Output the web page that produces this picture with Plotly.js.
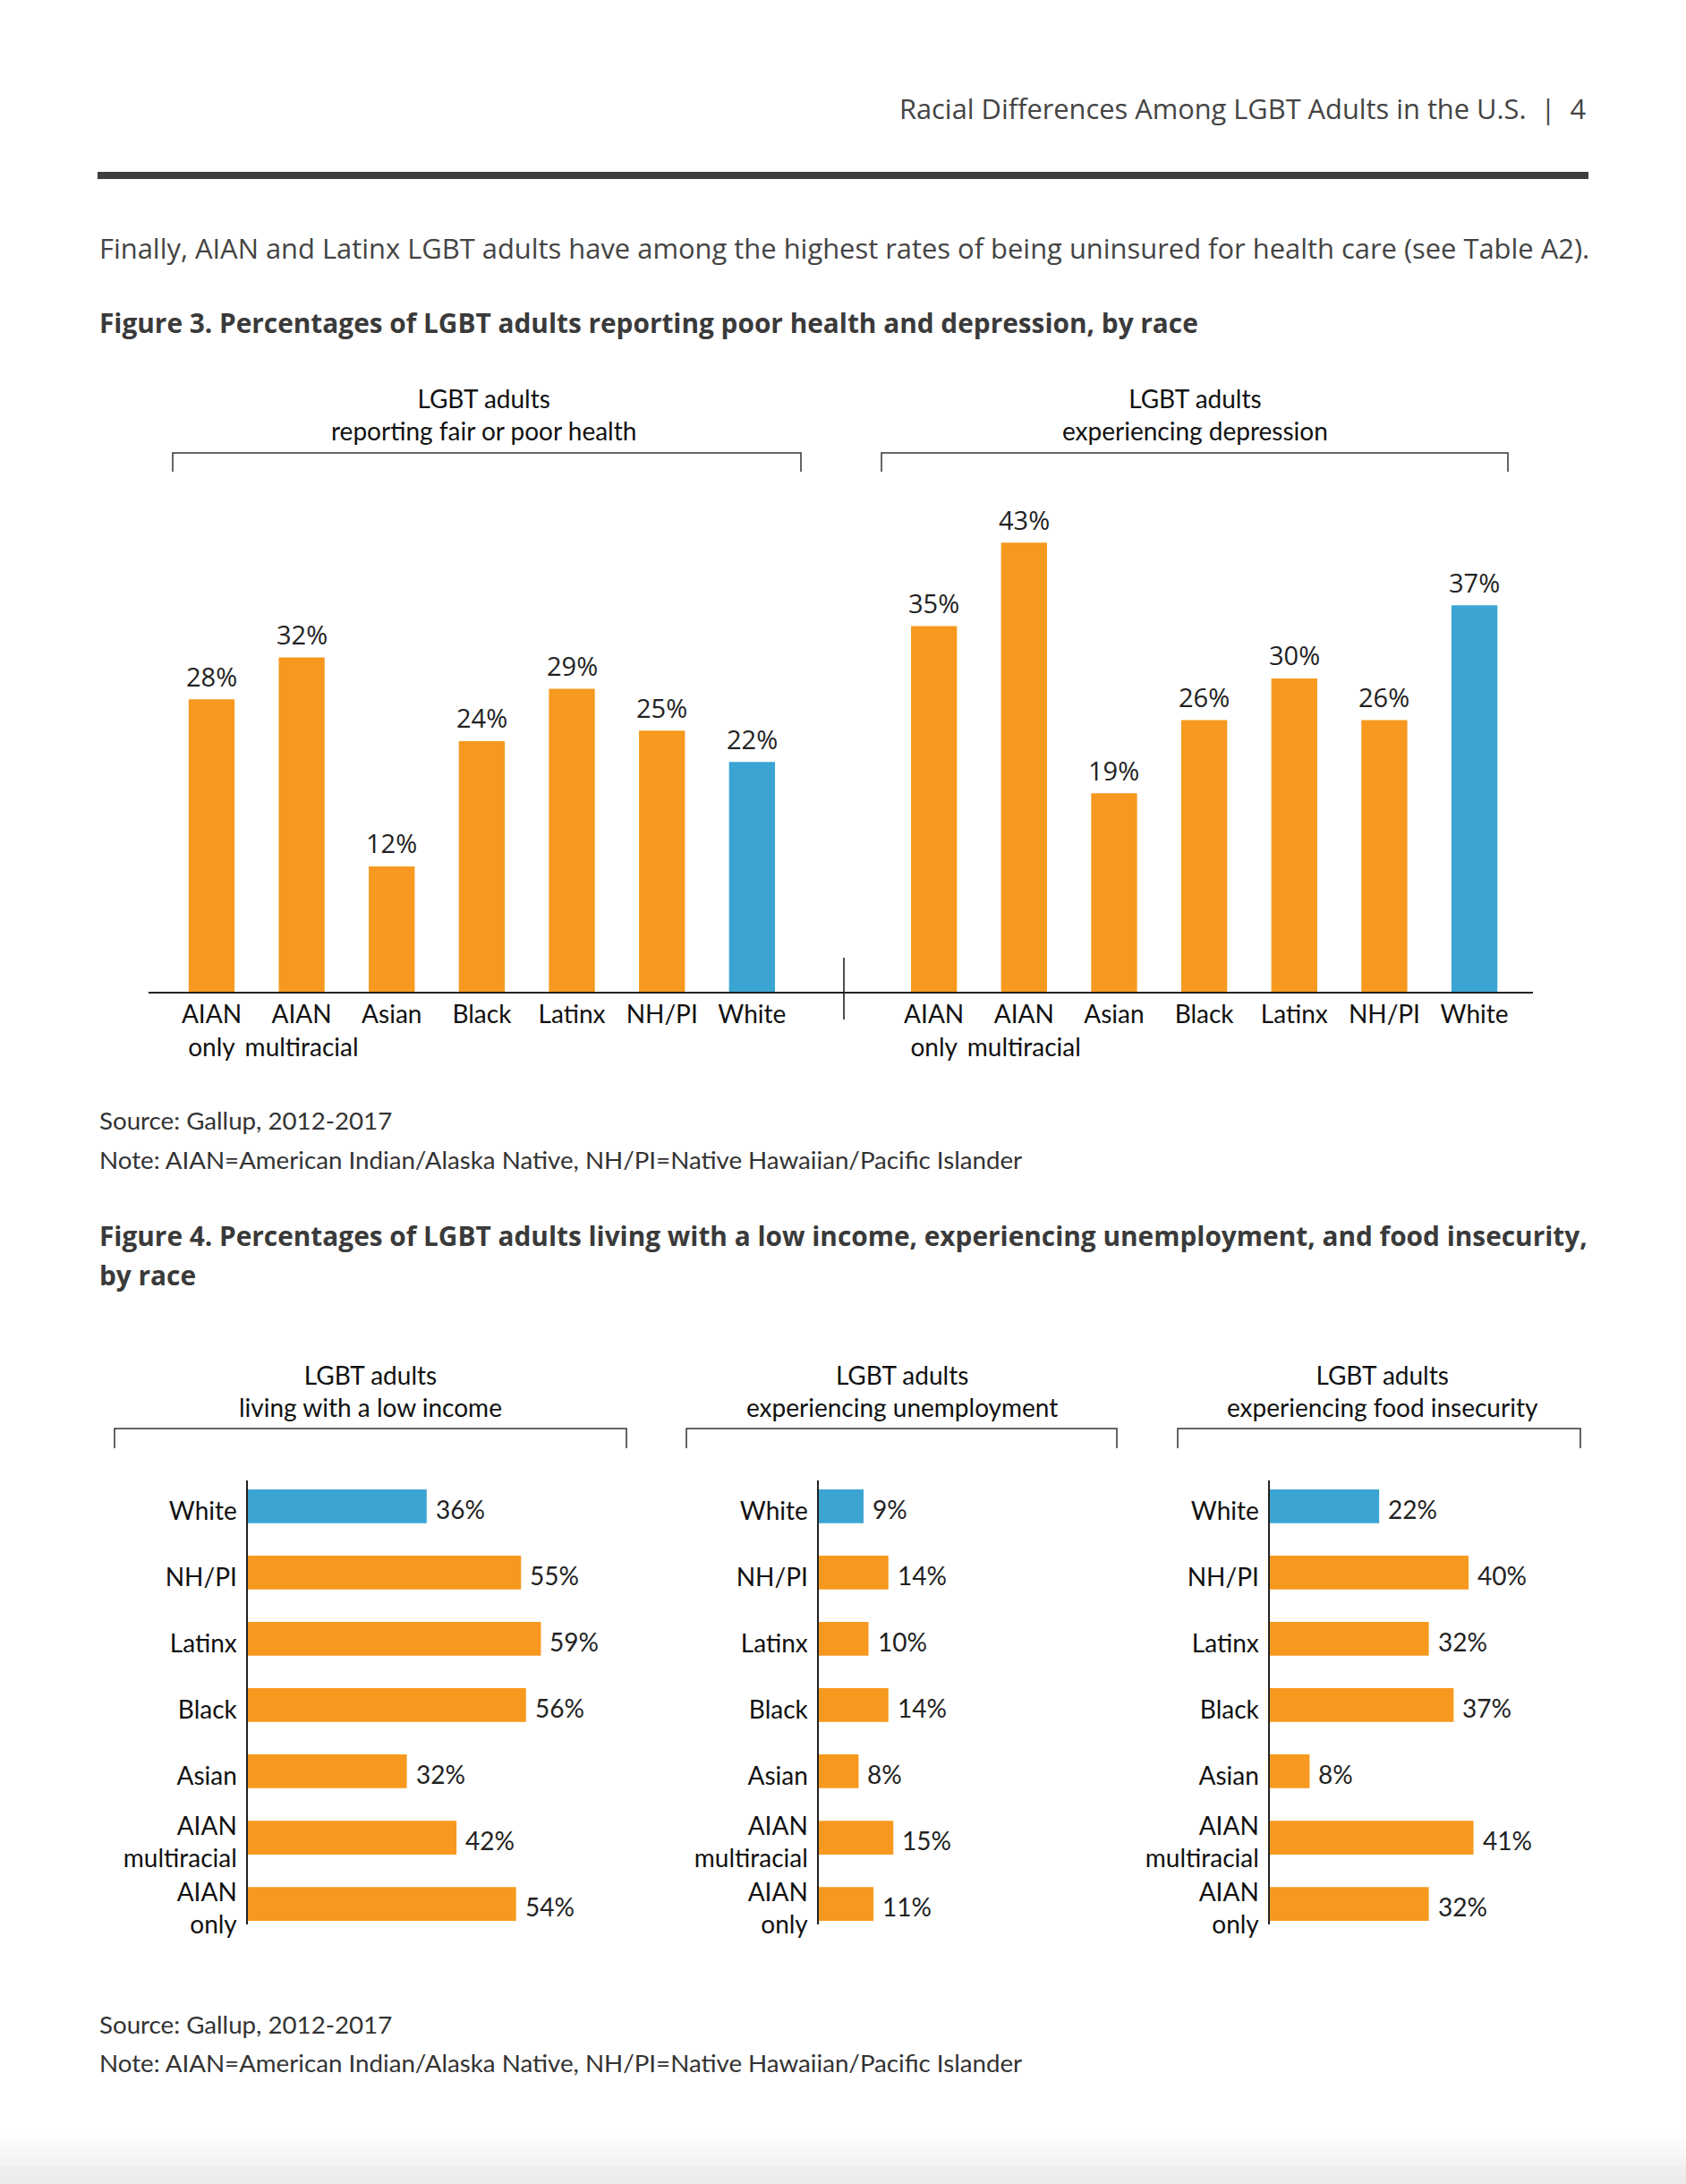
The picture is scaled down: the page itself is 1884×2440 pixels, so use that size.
<!DOCTYPE html>
<html>
<head>
<meta charset="utf-8">
<script src="https://cdn.plot.ly/plotly-3.0.1.min.js"></script>
<style>
  html, body { margin: 0; padding: 0; background: #fff; }
  #chart { width: 1884px; height: 2440px; }
</style>
</head>
<body>
<div id="chart"></div>
<script>
// ---------- Data ----------
const fig3Categories = ["AIAN<br>only", "AIAN<br>multiracial", "Asian", "Black", "Latinx", "NH/PI", "White"];
const poorHealth = [28, 32, 12, 24, 29, 25, 22];
const depression = [35, 43, 19, 26, 30, 26, 37];

// Figure 4 categories listed bottom-to-top
const fig4Categories = ["AIAN<br>only", "AIAN<br>multiracial", "Asian", "Black", "Latinx", "NH/PI", "White"];
const lowIncome = [54, 42, 32, 56, 59, 55, 36];
const unemployment = [11, 15, 8, 14, 10, 14, 9];
const foodInsecurity = [32, 41, 8, 37, 32, 40, 22];

const headerText = "Racial Differences Among LGBT Adults in the U.S.  |  4";
const introText = "Finally, AIAN and Latinx LGBT adults have among the highest rates of being uninsured for health care (see Table A2).";
const fig3Title = "Figure 3. Percentages of LGBT adults reporting poor health and depression, by race";
const fig3Sub = ["LGBT adults<br>reporting fair or poor health", "LGBT adults<br>experiencing depression"];
const fig4Title = ["Figure 4. Percentages of LGBT adults living with a low income, experiencing unemployment, and food insecurity,", "by race"];
const fig4Sub = ["LGBT adults<br>living with a low income", "LGBT adults<br>experiencing unemployment", "LGBT adults<br>experiencing food insecurity"];
const sourceText = "Source: Gallup, 2012-2017";
const noteText = "Note: AIAN=American Indian/Alaska Native, NH/PI=Native Hawaiian/Pacific Islander";

// ---------- Styling ----------
const W = 1884, H = 2440;
const fx = p => p / W;
const fy = p => 1 - p / H;
const ORANGE = "#F7991F";
const BLUE = "#3BA4D2";
const colorFor = cats => cats.map(c => c === "White" ? BLUE : ORANGE);
const LABEL_FONT = { family: "Lato, 'Open Sans', sans-serif", size: 28, color: "#111" };
const VALUE_FONT3 = { family: "'Open Sans', Lato, sans-serif", size: 29, color: "#222" };
const VALUE_FONT4 = { family: "Lato, 'Open Sans', sans-serif", size: 28, color: "#222" };

function vbar(y, xa, ya) {
  return {
    type: "bar", x: fig3Categories, y: y, xaxis: xa, yaxis: ya,
    marker: { color: colorFor(fig3Categories) },
    cliponaxis: false, hoverinfo: "skip", showlegend: false
  };
}
function hbar(x, xa, ya) {
  return {
    type: "bar", orientation: "h", y: fig4Categories, x: x, xaxis: xa, yaxis: ya,
    marker: { color: colorFor(fig4Categories) },
    cliponaxis: false, hoverinfo: "skip", showlegend: false
  };
}

const data = [
  vbar(poorHealth, "x", "y"),
  vbar(depression, "x2", "y2"),
  hbar(lowIncome, "x3", "y3"),
  hbar(unemployment, "x4", "y4"),
  hbar(foodInsecurity, "x5", "y5")
];

// value labels placed through the data axes
function vLabels(vals, xa, ya) {
  return vals.map((v, i) => ({
    text: v + "%", xref: xa, yref: ya, x: i, y: v, showarrow: false,
    xanchor: "center", yanchor: "middle", yshift: 26, font: VALUE_FONT3
  }));
}
function hLabels(vals, xa, ya) {
  return vals.map((v, i) => ({
    text: v + "%", xref: xa, yref: ya, x: v, y: i, showarrow: false,
    xanchor: "left", yanchor: "middle", xshift: 8, yshift: -3, font: VALUE_FONT4
  }));
}

// Figure 3 geometry
const base3 = 1108, pxPerPct3 = 11.67, yMax3 = 50;
const yDom3 = [fy(base3), fy(base3 - yMax3 * pxPerPct3)];
const xCat = (dom, range) => ({
  domain: dom, range: range, type: "category", showline: true, linecolor: "#222", linewidth: 1.6,
  ticks: "", showgrid: false, zeroline: false, tickfont: LABEL_FONT, fixedrange: true
});
const yVal = (dom, range, anchor) => ({
  domain: dom, range: range, visible: false, showgrid: false, zeroline: false, anchor: anchor, fixedrange: true
});

// Figure 4 geometry
const yDom4 = [fy(2150), fy(1654)];
const yCat = (anchor) => ({
  domain: yDom4, range: [-0.31, 6.39], type: "category", anchor: anchor, showline: true, linecolor: "#222",
  linewidth: 1.6, ticks: "", showgrid: false, zeroline: false, tickfont: LABEL_FONT,
  ticklabelstandoff: 5, ticklabelshift: 5, fixedrange: true
});
const pxPerPct4 = 5.55, xMax4 = 70;
const xVal = (start, anchor) => ({
  domain: [fx(start), fx(start + xMax4 * pxPerPct4)], range: [0, xMax4], visible: false, anchor: anchor, fixedrange: true
});

function bracket(x0, x1, y, drop) {
  return {
    type: "path", xref: "paper", yref: "paper",
    path: `M ${fx(x0)} ${fy(y + drop)} L ${fx(x0)} ${fy(y)} L ${fx(x1)} ${fy(y)} L ${fx(x1)} ${fy(y + drop)}`,
    line: { color: "#333", width: 1.5 }
  };
}
function txt(text, x, y, opts) {
  return Object.assign({
    text: text, xref: "paper", yref: "paper", x: fx(x), y: fy(y), showarrow: false,
    xanchor: "left", yanchor: "middle", align: "left",
    font: { family: "'Open Sans', sans-serif", size: 28, color: "#444" }
  }, opts || {});
}

const subFont = { family: "Lato, sans-serif", size: 28, color: "#111" };
const noteFont = { family: "Lato, sans-serif", size: 27.7, color: "#333" };
const titleFont = { family: "'Open Sans', sans-serif", size: 29.8, color: "#3a3a3a" };

// bottom page shading (soft gradient)
const shadeSteps = ["#fdfdfd", "#fafafa", "#f7f7f7", "#f3f3f3", "#efefef", "#ebebeb"];
const shadeShapes = shadeSteps.map((c, i) => ({
  type: "rect", xref: "paper", yref: "paper", x0: 0, x1: 1,
  y0: fy(2380 + i * 10 + 10), y1: fy(2380 + i * 10), fillcolor: c, line: { width: 0 }, layer: "below"
}));

const layout = {
  width: W, height: H,
  margin: { l: 0, r: 0, t: 0, b: 0 },
  paper_bgcolor: "#fff", plot_bgcolor: "rgba(0,0,0,0)",
  bargap: 0.49,
  showlegend: false,
  xaxis: xCat([fx(166), fx(943)], [-0.7, 7.02]),
  yaxis: yVal(yDom3, [0, yMax3], "x"),
  xaxis2: Object.assign(xCat([fx(943), fx(1713)], [-1.0, 6.65]), { anchor: "y2" }),
  yaxis2: yVal(yDom3, [0, yMax3], "x2"),
  xaxis3: xVal(277, "y3"),
  yaxis3: yCat("x3"),
  xaxis4: xVal(915, "y4"),
  yaxis4: yCat("x4"),
  xaxis5: xVal(1419, "y5"),
  yaxis5: yCat("x5"),
  shapes: [
    { type: "line", xref: "paper", yref: "paper", x0: fx(109), x1: fx(1775), y0: fy(196), y1: fy(196),
      line: { color: "#3d3d3f", width: 8 } },
    bracket(193, 895, 506, 21),
    bracket(985, 1685, 506, 21),
    { type: "line", xref: "paper", yref: "paper", x0: fx(943), x1: fx(943), y0: fy(1070), y1: fy(1139),
      line: { color: "#222", width: 1.6 } },
    bracket(128, 700, 1596, 22),
    bracket(767, 1248, 1596, 22),
    bracket(1316, 1766, 1596, 22)
  ].concat(shadeShapes),
  annotations: [
    txt(headerText, 1774, 121, { xanchor: "right", font: { family: "'Open Sans', sans-serif", size: 30.8, color: "#444" } }),
    txt(introText, 109, 277, { font: { family: "'Open Sans', sans-serif", size: 30.9, color: "#444" } }),
    txt("<b>" + fig3Title + "</b>", 109, 361, { font: titleFont }),
    txt(fig3Sub[0], 540, 463, { xanchor: "center", align: "center", font: subFont }),
    txt(fig3Sub[1], 1335, 463, { xanchor: "center", align: "center", font: subFont }),
    txt(sourceText, 109, 1252, { font: noteFont }),
    txt(noteText, 109, 1296, { font: noteFont }),
    txt("<b>" + fig4Title[0] + "</b>", 109, 1380, { font: titleFont }),
    txt("<b>" + fig4Title[1] + "</b>", 109, 1424, { font: titleFont }),
    txt(fig4Sub[0], 414, 1554, { xanchor: "center", align: "center", font: subFont }),
    txt(fig4Sub[1], 1008, 1554, { xanchor: "center", align: "center", font: subFont }),
    txt(fig4Sub[2], 1545, 1554, { xanchor: "center", align: "center", font: subFont }),
    txt(sourceText, 109, 2261, { font: noteFont }),
    txt(noteText, 109, 2304, { font: noteFont })
  ].concat(
    vLabels(poorHealth, "x", "y"),
    vLabels(depression, "x2", "y2"),
    hLabels(lowIncome, "x3", "y3"),
    hLabels(unemployment, "x4", "y4"),
    hLabels(foodInsecurity, "x5", "y5")
  )
};

Plotly.newPlot("chart", data, layout, { displayModeBar: false, staticPlot: true });
</script>
</body>
</html>
